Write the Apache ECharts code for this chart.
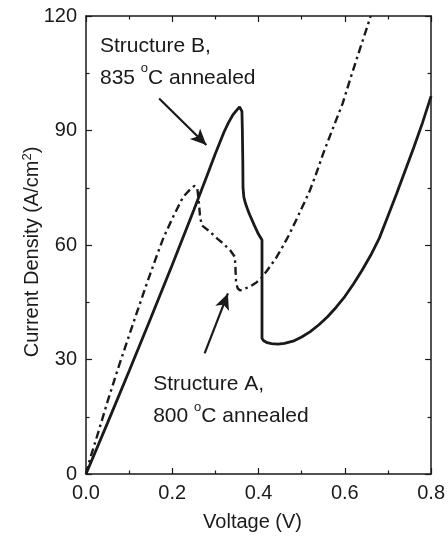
<!DOCTYPE html>
<html>
<head>
<meta charset="utf-8">
<script src="https://cdn.jsdelivr.net/npm/echarts@6/dist/echarts.min.js"></script>
<style>
    html, body { margin: 0; padding: 0; background: #fff; }
    #chart { width: 448px; height: 538px; }
</style>
</head>
<body>
<div id="chart"></div>
<script>
    // Structure B, 835 C annealed (solid)
    const bVoltage = [0, 0.05, 0.1, 0.15, 0.2, 0.25, 0.28, 0.3, 0.32, 0.33, 0.34, 0.35, 0.356, 0.36,
        0.3615, 0.3625, 0.3635, 0.364, 0.366, 0.37, 0.375, 0.38, 0.39, 0.4, 0.408, 0.408, 0.408,
        0.412, 0.42, 0.43, 0.445, 0.46, 0.48, 0.5, 0.52, 0.54, 0.56, 0.58, 0.6, 0.62, 0.64,
        0.66, 0.68, 0.7, 0.72, 0.74, 0.76, 0.78, 0.8]
    const bCurrent = [0, 13.4, 27, 40.8, 54.8, 69.2, 78, 84, 89.6, 92, 94, 95.4, 96.2, 96.5,
        95, 90, 82, 75, 72.5, 70.8, 69.2, 67.8, 65.2, 62.8, 61.3, 50, 35.5,
        34.9, 34.4, 34.15, 34.05, 34.25, 34.8, 35.9, 37.3, 39.1, 41.2, 43.7, 46.5, 49.8, 53.4,
        57.3, 61.8, 67.6, 73.4, 79.5, 85.6, 92, 99]

    // Structure A, 800 C annealed (dash-dot)
    const aVoltage = [0, 0.01, 0.03, 0.05, 0.075, 0.1, 0.12, 0.145, 0.166, 0.18, 0.202, 0.225,
        0.245, 0.252, 0.258, 0.261, 0.264, 0.268, 0.287, 0.305, 0.318, 0.335, 0.345, 0.346,
        0.348, 0.352, 0.357, 0.365, 0.38, 0.395, 0.406, 0.419, 0.44, 0.456, 0.47, 0.487,
        0.5, 0.518, 0.533, 0.55, 0.568, 0.595, 0.614, 0.634, 0.65, 0.66]
    const aCurrent = [0, 4.2, 11.5, 19, 27.9, 36.3, 43, 51.2, 57.8, 62, 67.4, 72.6,
        75, 75.5, 74.8, 72, 68, 65.2, 63.5, 61.6, 60.4, 58.5, 56.9, 55,
        50, 48.6, 48.1, 48.4, 49.1, 50.2, 51.3, 53.2, 56.5, 59.6, 62.5, 66.5,
        69.6, 74, 78.5, 84, 89.3, 97.1, 104, 111, 116.5, 120]

    const xTicks = [0, 0.2, 0.4, 0.6, 0.8]
    const yTicks = [0, 30, 60, 90, 120]

    // annotations: [x, y] in data units
    const arrowB = [[0.1695, 98.4], [0.279, 86.2]]
    const arrowA = [[0.275, 31.6], [0.329, 47.3]]
    const labelB = { at: [0.0324, 108.5], lines: ['Structure B,', '835 {sup|o}C annealed'] }
    const labelA = { at: [0.1557, 19.8], lines: ['Structure A,', '800 {sup|o}C annealed'] }

    const zip = (xs, ys) => xs.map((x, i) => [x, ys[i]])

    const ink = '#1a1a1a'
    const font = 'Liberation Sans, Arial, sans-serif'

    let chart = echarts.init(document.getElementById('chart'))

    let axisCommon = {
        axisLine: { show: true, onZero: false, lineStyle: { color: ink, width: 1.5 } },
        axisTick: { show: true, inside: true, length: 6, lineStyle: { color: ink, width: 1.2 } },
        minorTick: { show: true, splitNumber: 2, length: 3.5, lineStyle: { color: ink, width: 1.2 } },
        splitLine: { show: false },
    }

    let options = {
        animation: false,
        textStyle: { fontFamily: font },
        grid: { left: 86, right: 16, top: 16, bottom: 64 },
        xAxis: [
            Object.assign({
                type: 'value',
                min: xTicks[0],
                max: xTicks[xTicks.length - 1],
                interval: 0.2,
                name: 'Voltage (V)',
                nameLocation: 'middle',
                nameGap: 38,
                nameMoveOverlap: false,
                nameTextStyle: { fontSize: 20, color: ink, fontFamily: font, padding: [0, 12, 0, 0] },
                axisLabel: {
                    margin: 9, fontSize: 20, color: ink, fontFamily: font,
                    formatter: (v) => v.toFixed(1)
                },
            }, axisCommon),
            Object.assign({
                type: 'value', position: 'top',
                min: xTicks[0], max: xTicks[xTicks.length - 1], interval: 0.2,
                axisLabel: { show: false },
            }, axisCommon),
        ],
        yAxis: [
            Object.assign({
                type: 'value',
                min: yTicks[0],
                max: yTicks[yTicks.length - 1],
                interval: 30,
                name: 'Current Density (A/cm{sup|2})',
                nameLocation: 'middle',
                nameGap: 43,
                nameMoveOverlap: false,
                nameTextStyle: {
                    fontSize: 20, color: ink, fontFamily: font, lineHeight: 22,
                    padding: [0, 14, 0, 0],
                    rich: { sup: { fontSize: 13, verticalAlign: 'top', lineHeight: 14, color: ink, fontFamily: font } }
                },
                axisLabel: { margin: 9, fontSize: 20, color: ink, fontFamily: font },
            }, axisCommon),
            Object.assign({
                type: 'value', position: 'right',
                min: yTicks[0], max: yTicks[yTicks.length - 1], interval: 30,
                axisLabel: { show: false },
            }, axisCommon),
        ],
        series: [
            {
                name: 'Structure B',
                type: 'line',
                data: zip(bVoltage, bCurrent),
                showSymbol: false,
                lineStyle: { color: ink, width: 2.8 },
                markLine: {
                    silent: true,
                    symbol: ['none', 'arrow'],
                    symbolSize: [11, 16],
                    label: { show: false },
                    lineStyle: { color: ink, width: 2.2, type: 'solid' },
                    data: [
                        [{ coord: arrowB[0] }, { coord: arrowB[1] }],
                        [{ coord: arrowA[0] }, { coord: arrowA[1] }],
                    ]
                }
            },
            {
                name: 'Structure A',
                type: 'line',
                data: zip(aVoltage, aCurrent),
                showSymbol: false,
                lineStyle: { color: ink, width: 2.4, type: [8, 4, 2.5, 4] },
            },
        ]
    }
    chart.setOption(options)

    // text labels placed from data coordinates
    let makeLabel = (lbl) => {
        let p = chart.convertToPixel({ gridIndex: 0 }, lbl.at)
        return {
            type: 'text',
            left: p[0],
            top: p[1] - 30,
            style: {
                text: lbl.lines.join('\n'),
                font: '21px ' + font,
                fill: ink,
                lineHeight: 32,
                rich: {
                    sup: { fontSize: 13, verticalAlign: 'top', lineHeight: 22, fill: ink, fontFamily: font }
                }
            }
        }
    }
    chart.setOption({ graphic: [makeLabel(labelB), makeLabel(labelA)] })
</script>
</body>
</html>
